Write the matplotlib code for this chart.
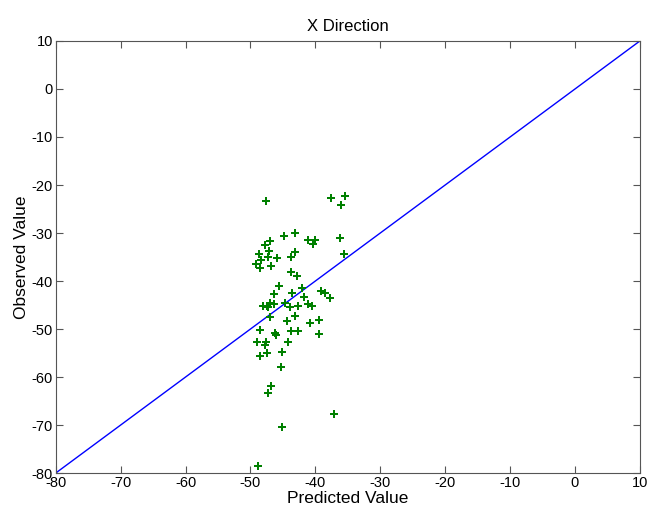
# Observed vs predicted, X direction

import numpy as np
import matplotlib
matplotlib.use("Agg")
import matplotlib.pyplot as plt

predicted = [-47.6, -37.6, -35.4, -36.0, -44.8, -43.2, -41.1, -40.1, -40.3, -36.2,
             -47.0, -47.8, -47.1, -48.7, -43.2, -43.8, -45.9, -47.3, -48.3, -49.1,
             -48.6, -46.9, -35.6, -43.8, -42.8, -45.6, -42.1, -46.4, -43.6, -39.1,
             -38.5, -37.8, -41.7, -48.0, -47.4, -47.0, -46.4, -47.3, -44.7, -43.9,
             -42.7, -41.1, -40.5, -47.0, -43.1, -44.3, -39.4, -40.8, -48.5, -46.2,
             -46.1, -43.7, -42.6, -39.4, -49.0, -47.6, -47.7, -44.2, -47.4, -45.2,
             -48.6, -45.3, -46.9, -47.3, -37.1, -45.2, -48.9]
observed = [-23.3, -22.8, -22.2, -24.2, -30.6, -30.1, -31.5, -31.5, -32.3, -31.0,
            -31.6, -32.4, -33.7, -34.4, -34.0, -34.9, -35.1, -35.0, -35.6, -36.5,
            -37.2, -36.9, -34.4, -38.1, -39.0, -41.1, -41.4, -42.7, -42.4, -42.0,
            -42.5, -43.6, -43.4, -45.2, -45.1, -44.6, -44.7, -45.4, -44.5, -45.5,
            -45.2, -44.8, -45.1, -47.5, -47.2, -48.4, -48.1, -48.8, -50.3, -50.8,
            -51.2, -50.5, -50.5, -51.0, -52.6, -52.7, -53.3, -52.6, -55.0, -54.8,
            -55.6, -58.0, -61.9, -63.3, -67.7, -70.4, -78.5]

diag = [-80, 10]
ticks = np.arange(-80, 11, 10)

plt.rcParams['font.family'] = ['Liberation Sans', 'DejaVu Sans']
plt.rcParams['axes.unicode_minus'] = False

fig = plt.figure(figsize=(6.49, 5.12), dpi=100)
ax = fig.add_axes([0.0858, 0.076, 0.9002, 0.844])

ax.plot(diag, diag, color="#0000ff", linewidth=1.0)
ax.plot(predicted, observed, linestyle="none", marker="P", markersize=5.5,
        color="#008000", markeredgewidth=0)

ax.set_xlim(-80, 10)
ax.set_ylim(-80, 10)
ax.set_xticks(ticks)
ax.set_yticks(ticks)
ax.tick_params(direction="in", top=True, right=True, length=5, width=0.8,
               labelsize=10.5, colors="#555555", labelcolor="black", pad=2)
for s in ax.spines.values():
    s.set_color("#555555")
    s.set_linewidth(0.8)

ax.set_title("X Direction", fontsize=12, pad=7)
ax.set_xlabel("Predicted Value", fontsize=12.5, labelpad=1)
ax.set_ylabel("Observed Value", fontsize=12.5, labelpad=2)

fig.savefig("out.png", dpi=100)
